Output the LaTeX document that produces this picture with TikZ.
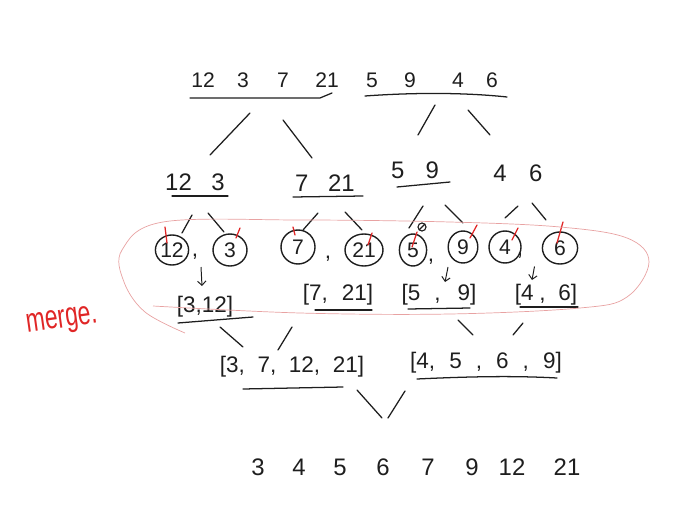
\documentclass[tikz,border=0pt]{standalone}
\usepackage{fontspec}
\setmainfont{Liberation Sans}
\usetikzlibrary{arrows.meta}
\usetikzlibrary{calc}
\usetikzlibrary{shapes.geometric}

\definecolor{ink}{HTML}{1E1E1E}
\definecolor{pen}{HTML}{E02626}
\definecolor{hilite}{HTML}{E8A2A2}

\tikzset{
  num/.style={font=\fontsize{16}{18}\selectfont, text=ink, inner sep=1pt},
  leaf/.style={ellipse, draw=ink, line width=1pt, inner sep=0pt,
    minimum width=0.8cm, minimum height=0.8cm,
    font=\fontsize{15}{17}\selectfont, text=ink},
  branch/.style={draw=ink, line width=0.9pt, line cap=round},
  uline/.style={draw=ink, line width=0.9pt, line cap=round, line join=round},
  tick/.style={draw=pen, line width=0.9pt, line cap=round},
  down/.style={draw=ink, line width=0.7pt, -{Straight Barb[length=3pt,width=6pt]}},
  ring/.style={draw=hilite, line width=0.5pt},
}

\begin{document}
\begin{tikzpicture}[x=0.025cm, y=-0.025cm]
  \useasboundingbox (0,0) rectangle (696,505);

  % the list to sort
  \foreach \x/\v [count=\i] in {203/12,243/3,283/7,327/21,372/5,410/9,458/4,492/6}
    \node[num, font=\fontsize{15}{17}\selectfont] (t\i) at (\x,80) {\v};
  \coordinate (L) at (265,80);
  \coordinate (R) at (432,80);
  \draw[uline] (190,98) -- (320,98) -- (332,93);
  \draw[uline] (365,96) .. controls (420,92) and (470,93) .. (507,97);

  % split
  \node[num, font=\fontsize{17}{19}\selectfont] (A) at (195,182) {12\hspace{14pt}3};
  \node[num, font=\fontsize{17}{19}\selectfont] (B) at (325,183) {7\hspace{14pt}21};
  \node[num, font=\fontsize{17}{19}\selectfont] (C) at (415,170) {5\hspace{15pt}9};
  \node[num, font=\fontsize{17}{19}\selectfont] (D) at (518,173) {4\hspace{16pt}6};
  \draw[uline] (172,196) -- (228,196);
  \draw[uline] (293,197) -- (363,196);
  \draw[uline] (397,187) -- (450,182);

  \draw[branch]
    ($(L)+(-15,33)$) -- ($(A)+(15,-27)$)
    ($(L)+(18,40)$)  -- ($(B)+(-13,-25)$)
    ($(R)+(3,25)$)   -- ($(C)+(3,-35)$)
    ($(R)+(36,30)$)  -- ($(D)+(-28,-38)$);

  % single elements
  \node[leaf, minimum width=0.75cm, minimum height=0.75cm] (c12) at (172,250) {12};
  \node[leaf, minimum width=0.85cm]                        (c3)  at (230,250) {3};
  \node[leaf, minimum width=0.85cm, minimum height=0.85cm] (c7)  at (298,247) {7};
  \node[leaf, minimum width=0.95cm]                        (c21) at (364,250) {21};
  \node[leaf, minimum width=0.68cm]                        (c5)  at (413,250) {5};
  \node[leaf, minimum width=0.74cm]                        (c9)  at (463,247) {9};
  \node[leaf]                                              (c4)  at (505,247) {4};
  \node[leaf, minimum width=0.88cm]                        (c6)  at (560,248) {6};
  \node[num] (k1) at (195,257) {,};
  \node[num] (k2) at (328,259) {,};
  \node[num] (k3) at (431,262) {,};
  \node[num] (k4) at (520,256) {,};

  \draw[branch]
    ($(A)+(-3,33)$) -- ($(c12)+(10,-17)$)
    ($(A)+(13,31)$) -- ($(c3)+(-6,-18)$)
    ($(B)+(-7,30)$) -- ($(c7)+(5,-17)$)
    ($(B)+(20,29)$) -- ($(c21)+(-2,-20)$)
    ($(C)+(8,36)$)  -- ($(c5)+(-4,-22)$)
    ($(C)+(30,35)$) -- ($(c9)+(0,-24)$)
    ($(D)+(0,33)$)  -- ($(c4)+(0,-29)$)
    ($(D)+(14,30)$) -- ($(c6)+(-14,-28)$);

  % red marks
  \foreach \n/\ax/\ay/\bx/\by in {c12/-7/-23/-5/-7, c3/10/-22/6/-12, c7/-5/-20/-3/-12,
      c21/8/-17/4/-5, c5/4/-18/-1/-3, c9/14/-22/7/-9, c4/13/-19/7/-7, c6/3/-26/-3/-5}
    \draw[tick] ($(\n)+(\ax,\ay)$) -- ($(\n)+(\bx,\by)$);
  \draw[ink, line width=0.8pt] (422,227) circle[radius=0.1cm];
  \draw[ink, line width=0.8pt] (419,230) -- (425,224);

  % merged pairs
  \node[num] (m1) at (205,307) {[3,12]};
  \node[num] (m2) at (338,295) {[7,\hspace{10pt}21]};
  \node[num] (m3) at (439,295) {[5\hspace{10pt},\hspace{12pt}9]};
  \node[num] (m4) at (546,295) {[4\hspace{4pt},\hspace{9pt}6]};
  \draw[uline] (178,323) -- (253,317);
  \draw[uline] (315,310) -- (372,310);
  \draw[uline] (408,309) -- (470,308);
  \draw[uline] (520,307) -- (578,307);

  \draw[down] ($(c12)!.5!(c3)+(0,17)$) -- ($(m1)+(-3,-21)$);
  \draw[down] ($(c9)+(-15,20)$) -- ($(m3)+(6,-13)$);
  \draw[down] ($(c4)!.5!(c6)+(2,19)$) -- ($(m4)+(-14,-15)$);

  % merged halves
  \node[num] (h1) at (292,367) {[3,\hspace{9pt}7,\hspace{9pt}12,\hspace{9pt}21]};
  \node[num] (h2) at (486,363) {[4,\hspace{10pt}5\hspace{10pt},\hspace{10pt}6\hspace{10pt},\hspace{10pt}9]};
  \draw[uline] (243,389) -- (343,387);
  \draw[uline] (417,379) .. controls (480,376) and (520,376) .. (557,378);

  \draw[branch]
    ($(m1)+(15,20)$)  -- ($(h1)+(-49,-20)$)
    ($(m2)+(-46,32)$) -- ($(h1)+(-14,-17)$)
    ($(m3)+(19,25)$)  -- ($(h2)+(-13,-28)$)
    ($(m4)+(-23,28)$) -- ($(h2)+(27,-28)$);

  % sorted
  \foreach \x/\v [count=\i] in {258/3,299/4,340/5,383/6,428/7,472/9,512/12,567/21}
    \node[num, font=\fontsize{17}{19}\selectfont] (s\i) at (\x,467) {\v};

  \draw[branch]
    ($(h1)+(65,23)$)  -- ($(s4)+(-1,-49)$)
    ($(h2)+(-81,28)$) -- ($(s4)+(5,-49)$);

  % merge step
  \draw[ring] plot[smooth, tension=0.6] coordinates {(153,306) (300,313) (450,314)
    (580,308) (627,297) (649,262) (627,238) (560,227) (450,222) (300,220) (163,222)
    (122,250) (124,282) (145,312) (185,333)};
  \node[text=pen, font=\fontsize{24}{26}\selectfont, rotate=8] (lbl) at (62,322)
    {\scalebox{0.68}[1]{merge.}};
\end{tikzpicture}
\end{document}
